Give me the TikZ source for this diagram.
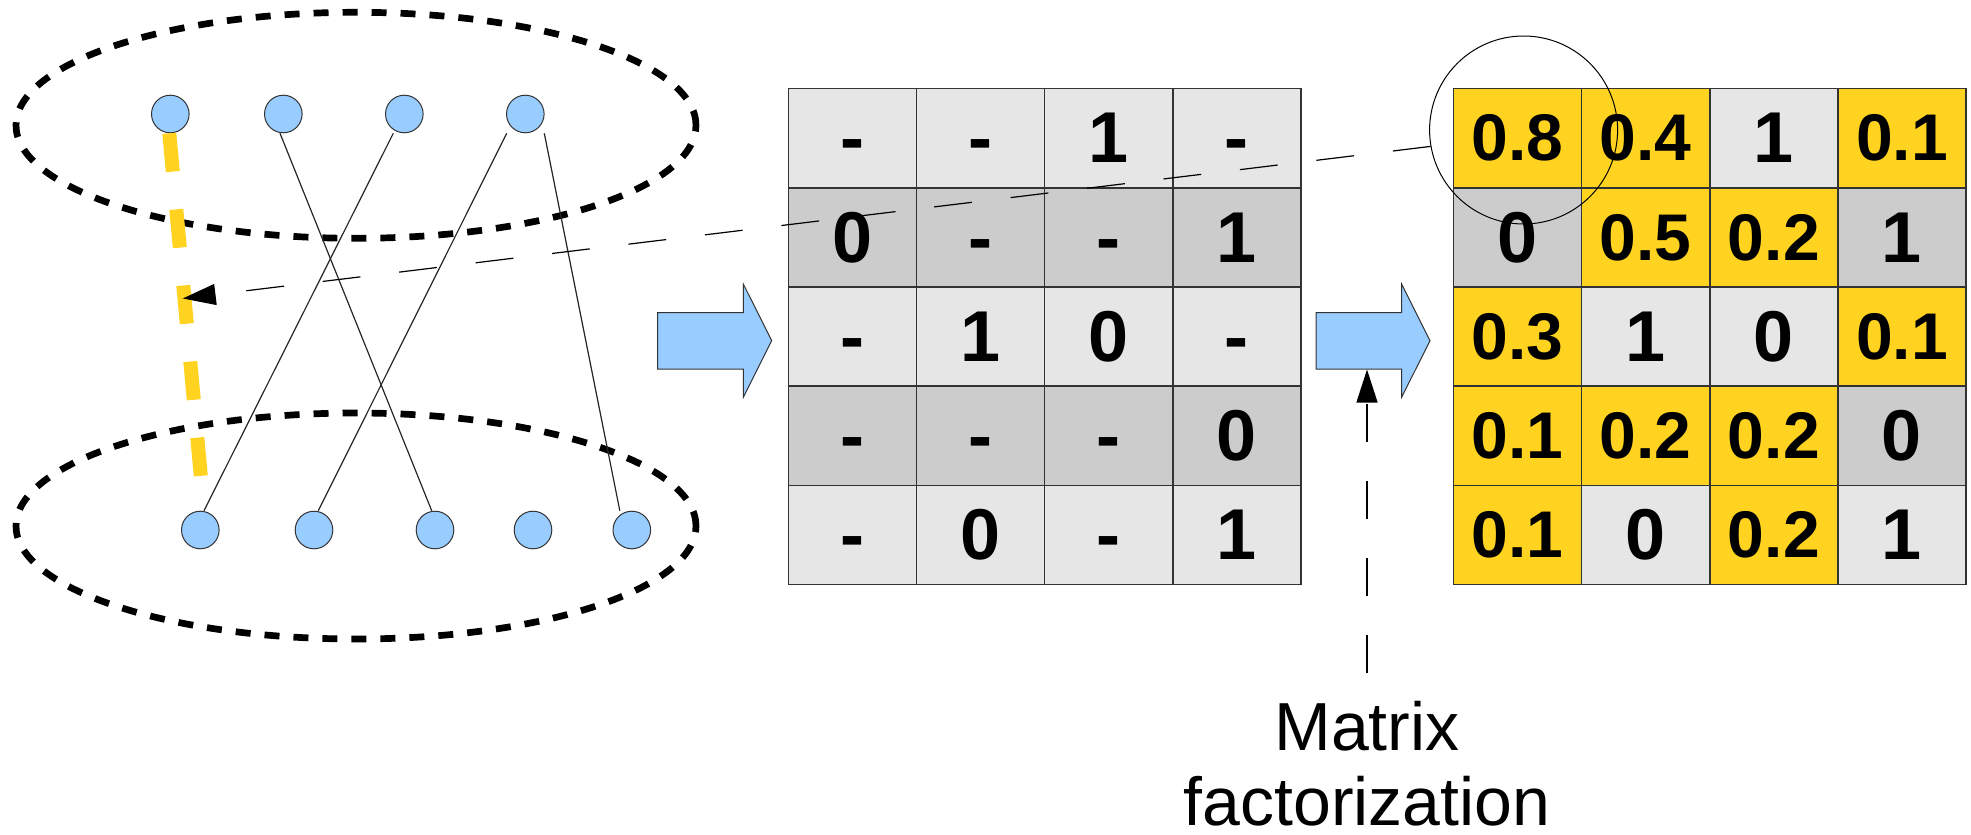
\documentclass[tikz,border=0pt]{standalone}
\usepackage{fontspec}
\setmainfont{Liberation Sans}
\usetikzlibrary{arrows.meta,calc,shapes.geometric}
\definecolor{lgray}{HTML}{E6E6E6}
\definecolor{dgray}{HTML}{CCCCCC}
\definecolor{gold}{HTML}{FFD320}
\definecolor{sky}{HTML}{99CCFF}
\tikzset{
  setellipse/.style={ellipse, draw=black, line width=6.7pt, dash pattern=on 15pt off 14pt, minimum width=680pt, minimum height=226pt, inner sep=0pt},
  vert/.style={circle, fill=sky, draw=black!80, line width=1pt, minimum size=37.6pt, inner sep=0pt},
  edge/.style={draw=black!85, line width=1.2pt},
  yellowdash/.style={draw=gold, line width=14pt, dash pattern=on 38.4pt off 38pt},
  cell/.style={draw=black!80, line width=1.5pt, minimum width=128.1pt, minimum height=99.2pt, inner sep=0pt, anchor=center},
  fs/.style={font=\bfseries\fontsize{#1}{#1}\selectfont},
  blockarrow/.style={fill=sky, draw=black!80, line width=1pt},
  dashline/.style={draw=black, line width=1.2pt, dash pattern=on 38pt off 39pt, -{Triangle[length=33pt,width=21pt]}},
  label/.style={font=\fontsize{68}{75}\selectfont, inner sep=0pt, anchor=base}
}
\begin{document}
\begin{tikzpicture}[x=1pt,y=-1pt]
\useasboundingbox (0,0) rectangle (1971,835);
% sets
\node[setellipse] (topset) at (356,125.3) {};
\node[setellipse] (botset) at (356,526) {};
% vertices
\node[vert] (t1) at (170.3,114) {};
\node[vert] (t2) at (283.3,114) {};
\node[vert] (t3) at (404.3,114) {};
\node[vert] (t4) at (525.3,114) {};
\node[vert] (b1) at (200.3,530) {};
\node[vert] (b2) at (314,530) {};
\node[vert] (b3) at (435,530) {};
\node[vert] (b4) at (533,530) {};
\node[vert] (b5) at (631.8,530) {};
% edges
\draw[edge] ([xshift=-3.3pt]t2.south) -- ([xshift=-3.3pt]b3.north);
\draw[edge] ([xshift=-11pt]t3.south) -- ([xshift=3.7pt]b1.north);
\draw[edge] ([xshift=-18.6pt]t4.south) -- ([xshift=4.3pt]b2.north);
\draw[edge] ([xshift=19pt]t4.south) -- ([xshift=-12pt]b5.north);
\draw[yellowdash] ([xshift=-1pt]t1.south) -- ([xshift=3.7pt]b1.north);
% block arrow 1
\draw[blockarrow] (657.7,312.7) -- (743.3,312.7) -- (743.3,284) -- (771.7,340.7) -- (743.3,397.3) -- (743.3,369) -- (657.7,369) -- cycle;
% block arrow 2
\draw[blockarrow] (1316,312.7) -- (1401.6,312.7) -- (1401.6,284) -- (1430,340.7) -- (1401.6,397.3) -- (1401.6,369) -- (1316,369) -- cycle;
\coordinate (a2bot) at (1367,369.5);
% middle matrix
\foreach \r/\fc/\a/\b/\c/\d in {1/lgray/-/-/1/-, 2/dgray/0/-/-/1, 3/lgray/-/1/0/-, 4/dgray/-/-/-/0, 5/lgray/-/0/-/1}{
  \node[cell, fill=\fc, fs=72] (m\r-1) at (852.55,{88.6+(\r-0.5)*99.2}) {\vphantom{0}\a};
  \node[cell, fill=\fc, fs=72] (m\r-2) at (980.65,{88.6+(\r-0.5)*99.2}) {\vphantom{0}\b};
  \node[cell, fill=\fc, fs=72] (m\r-3) at (1108.75,{88.6+(\r-0.5)*99.2}) {\vphantom{0}\c};
  \node[cell, fill=\fc, fs=72] (m\r-4) at (1236.85,{88.6+(\r-0.5)*99.2}) {\vphantom{0}\d};
}
% right matrix
\foreach \r/\c/\fc/\t/\s in {
  1/1/gold/0.8/66, 1/2/gold/0.4/66, 1/3/lgray/1/72, 1/4/gold/0.1/66,
  2/1/dgray/0/72, 2/2/gold/0.5/66, 2/3/gold/0.2/66, 2/4/dgray/1/72,
  3/1/gold/0.3/66, 3/2/lgray/1/72, 3/3/lgray/0/72, 3/4/gold/0.1/66,
  4/1/gold/0.1/66, 4/2/gold/0.2/66, 4/3/gold/0.2/66, 4/4/dgray/0/72,
  5/1/gold/0.1/66, 5/2/lgray/0/72, 5/3/gold/0.2/66, 5/4/lgray/1/72}{
  \node[cell, fill=\fc, fs=\s] (r\r-\c) at ({1453.6+(\c-0.5)*128.1},{88.6+(\r-0.5)*99.2}) {\vphantom{0}\t};
}
% highlight circle
\node[circle, draw=black, line width=1pt, minimum size=188pt, inner sep=0pt] (circ) at (1523.6,130) {};
% dashed arrows
\coordinate (tip) at (182.7,298.5);
\draw[dashline] (circ.190) -- (tip);
\node[label] (mf1) at (1367,750) {Matrix};
\node[label] (mf2) at (1367,825) {factorization};
\coordinate (fbot) at (1367,673);
\draw[dashline] (fbot) -- (a2bot);
\end{tikzpicture}
\end{document}
